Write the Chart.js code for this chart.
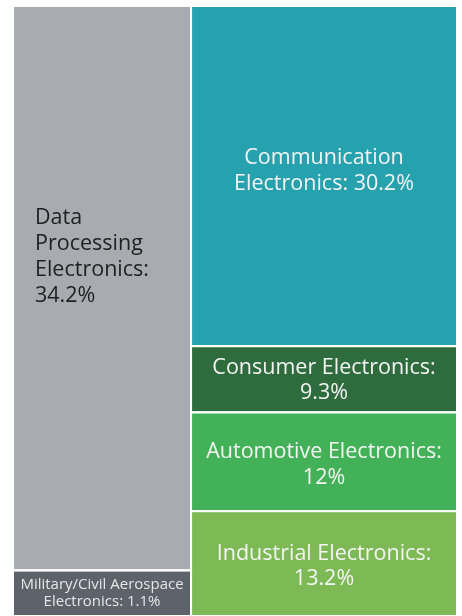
<!DOCTYPE html>
<html>
<head>
<meta charset="utf-8">
<script src="https://cdn.jsdelivr.net/npm/chart.js@4/dist/chart.umd.min.js"></script>
<style>
  html, body { margin: 0; padding: 0; background: #ffffff; }
  #wrap { width: 462px; height: 616px; }
</style>
</head>
<body>
<div id="wrap"><canvas id="c" width="462" height="616"></canvas></div>
<script>
// ---- data ----
const categories = [
  "Data Processing Electronics",
  "Military/Civil Aerospace Electronics",
  "Communication Electronics",
  "Consumer Electronics",
  "Automotive Electronics",
  "Industrial Electronics"
];
// shown share (%)
const shares = [34.2, 1.1, 30.2, 9.3, 12, 13.2];
// tile size weights (area share)
const sizes = [37.1, 3.0, 33.4, 6.5, 9.7, 10.3];
// column grouping of the treemap
const columns = [[0, 1], [2, 3, 4, 5]];
// label lines
const labelLines = [
  ["Data", "Processing", "Electronics:", "34.2%"],
  ["Military/Civil Aerospace", "Electronics: 1.1%"],
  ["Communication", "Electronics: 30.2%"],
  ["Consumer Electronics:", "9.3%"],
  ["Automotive Electronics:", "12%"],
  ["Industrial Electronics:", "13.2%"]
];
const colors = ["#a8abb0", "#5e626a", "#26a1ae", "#2e6b3d", "#42b157", "#7dba55"];
const textColors = ["#1f1f1f", "#e6e6e6", "#f4f4f4", "#f4f4f4", "#f4f4f4", "#f4f4f4"];

// ---- layout (in 0..100 data units) ----
const total = sizes.reduce((a, b) => a + b, 0);
const rects = new Array(sizes.length);
let xCursor = 0;
columns.forEach(col => {
  const colSum = col.reduce((a, i) => a + sizes[i], 0);
  const w = colSum / total * 100;
  let yCursor = 0;
  col.forEach(i => {
    const h = sizes[i] / colSum * 100;
    rects[i] = { x0: xCursor, x1: xCursor + w, y0: yCursor, y1: yCursor + h };
    yCursor += h;
  });
  xCursor += w;
});

const datasets = rects.map((r, i) => ({
  label: categories[i],
  data: [{ x: r.x0, y: r.y0 }, { x: r.x1, y: r.y0 }],
  fill: { value: r.y1 },
  backgroundColor: colors[i],
  borderWidth: 0,
  pointRadius: 0,
  tension: 0
}));

const labelStyle = [
  { size: 21.5, lh: 26, align: "left", padX: 22, dy: -31 },
  { size: 15, lh: 17, align: "center", padX: 0, dy: 0 },
  { size: 21.5, lh: 26, align: "center", padX: 0, dy: -5 },
  { size: 21.5, lh: 25, align: "center", padX: 0, dy: 1 },
  { size: 21.5, lh: 26, align: "center", padX: 0, dy: 3 },
  { size: 21.5, lh: 25, align: "center", padX: 0, dy: 3 }
];

const tilePlugin = {
  id: "tiles",
  afterDatasetsDraw(chart) {
    const ctx = chart.ctx;
    const xs = chart.scales.x, ys = chart.scales.y;
    ctx.save();
    rects.forEach((r, i) => {
      const px0 = xs.getPixelForValue(r.x0), px1 = xs.getPixelForValue(r.x1);
      const py0 = ys.getPixelForValue(r.y0), py1 = ys.getPixelForValue(r.y1);
      ctx.strokeStyle = "#ffffff";
      ctx.lineWidth = 2;
      ctx.strokeRect(px0, py0, px1 - px0, py1 - py0);
    });
    rects.forEach((r, i) => {
      const px0 = xs.getPixelForValue(r.x0), px1 = xs.getPixelForValue(r.x1);
      const py0 = ys.getPixelForValue(r.y0), py1 = ys.getPixelForValue(r.y1);
      const st = labelStyle[i];
      const lines = labelLines[i];
      ctx.font = st.size + "px 'Open Sans', 'Noto Sans', sans-serif";
      ctx.fillStyle = textColors[i];
      ctx.textBaseline = "middle";
      const cy = (py0 + py1) / 2 + st.dy;
      const startY = cy - (lines.length - 1) * st.lh / 2;
      let tx;
      if (st.align === "left") { ctx.textAlign = "left"; tx = px0 + st.padX; }
      else { ctx.textAlign = "center"; tx = (px0 + px1) / 2; }
      lines.forEach((ln, k) => ctx.fillText(ln, tx, startY + k * st.lh));
    });
    ctx.restore();
  }
};

new Chart(document.getElementById("c"), {
  type: "line",
  data: { datasets },
  options: {
    responsive: false,
    animation: false,
    layout: { padding: { left: 13, top: 6, right: 5, bottom: 0 } },
    plugins: { legend: { display: false }, tooltip: { enabled: false }, filler: { propagate: false } },
    scales: {
      x: { type: "linear", min: 0, max: 100, display: false },
      y: { type: "linear", min: 0, max: 100, reverse: true, display: false }
    }
  },
  plugins: [tilePlugin]
});
</script>
</body>
</html>
